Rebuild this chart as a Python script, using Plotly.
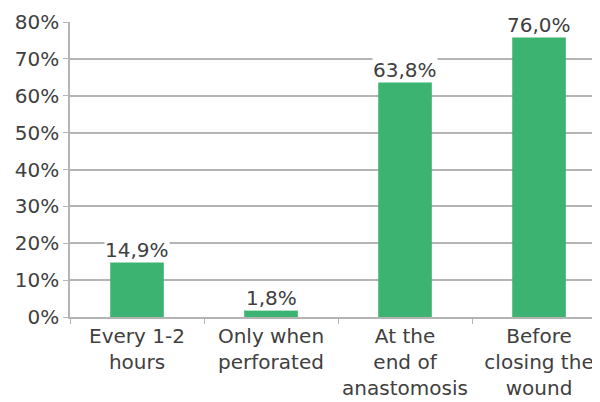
import plotly.graph_objects as go

categories = ["Every 1-2<br>hours", "Only when<br>perforated", "At the<br>end of<br>anastomosis", "Before<br>closing the<br>wound"]
values = [14.9, 1.8, 63.8, 76.0]
y_ticks = [0, 10, 20, 30, 40, 50, 60, 70, 80]

FONT = "DejaVu Sans"
TXT = "#404040"
GRID = "#b4b4b4"
FS = 20

fig = go.Figure()
fig.add_trace(go.Bar(x=categories, y=values, marker=dict(color="#3cb371", line=dict(width=0)), width=0.4))

for c, v in zip(categories, values):
    fig.add_annotation(x=c, y=v, text=f"{v:.1f}".replace(".", ",") + "%", showarrow=False,
                       yanchor="bottom", yshift=-1, bgcolor="white", borderpad=0,
                       font=dict(family=FONT, size=FS, color=TXT))

# page body has an 8px default margin, so the figure is sized/offset to compensate
fig.update_layout(
    width=592, height=394,
    margin=dict(l=62, r=0, t=14, b=85),
    plot_bgcolor="white", paper_bgcolor="white",
    showlegend=False, bargap=0.6,
    font=dict(family=FONT, size=FS, color=TXT),
)
fig.update_xaxes(type="category", range=[-0.5, 3.455], tickson="boundaries", ticks="outside",
                 ticklen=5, tickcolor=GRID, showline=True, linecolor=GRID, linewidth=1.5,
                 tickangle=0, showgrid=False, automargin=False,
                 tickfont=dict(family=FONT, size=FS, color=TXT))
fig.update_yaxes(range=[0, 80], tickvals=y_ticks, ticktext=[f"{t}%" for t in y_ticks],
                 ticks="outside", ticklen=5, tickcolor=GRID, showline=True, linecolor=GRID, linewidth=1.5,
                 showgrid=True, gridcolor=GRID, gridwidth=1.5, zeroline=False, automargin=False,
                 tickfont=dict(family=FONT, size=FS, color=TXT))

fig.write_html("out.html")
